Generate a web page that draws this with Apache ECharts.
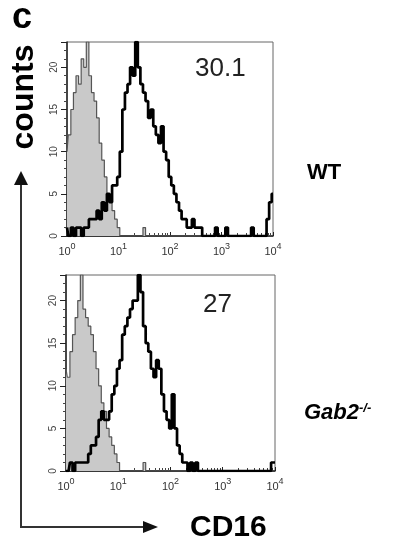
<!DOCTYPE html>
<html>
<head>
<meta charset="utf-8">
<script src="https://cdn.jsdelivr.net/npm/echarts@6/dist/echarts.min.js"></script>
<style>
  html, body { margin: 0; padding: 0; background: #fff; }
  #chart { width: 408px; height: 544px; }
</style>
</head>
<body>
<div id="chart"></div>
<script>
// bin centres in decades (log10 of CD16 intensity), 0.05 decade apart
const binLog = Array.from({ length: 81 }, (_, i) => +(i * 0.05).toFixed(2));

// WT: isotype control (grey) and anti-CD16 (black)
const wtIso = [
  10, 12, 15, 17, 19, 18, 21, 20, 23, 19,
  17, 16, 14, 11, 9, 7, 5, 4, 3, 2,
  1, 0, 0, 0, 0, 0, 0, 0, 0, 0,
  1, 0, 0, 0, 0, 0, 0, 0, 0, 0,
  0, 0, 0, 0, 0, 0, 0, 0, 0, 0,
  0, 0, 0, 0, 0, 0, 0, 0, 0, 0,
  0, 0, 0, 0, 0, 0, 0, 0, 0, 0,
  0, 0, 0, 0, 0, 0, 0, 0, 0, 0,
  0
];
const wtCd16 = [
  1, 0, 1, 0, 1, 1, 0, 1, 1, 2,
  2, 2, 3, 2, 4, 3, 5, 4, 6, 6,
  7, 10, 15, 17, 18, 20, 19, 23, 20, 18,
  17, 16, 14, 15, 13, 12, 11, 13, 10, 9,
  7, 6, 5, 4, 3, 2, 2, 1, 1, 2,
  1, 1, 1, 0, 0, 0, 0, 0, 1, 0,
  0, 0, 1, 0, 0, 0, 0, 0, 0, 0,
  0, 0, 1, 0, 0, 0, 0, 0, 2, 4,
  5
];

// Gab2-/-
const gabIso = [
  12, 11, 14, 16, 18, 20, 23, 19, 18, 17,
  16, 14, 12, 10, 8, 7, 5, 4, 3, 2,
  1, 0, 0, 0, 0, 0, 0, 0, 0, 0,
  1, 0, 0, 0, 0, 0, 0, 0, 0, 0,
  0, 0, 0, 0, 0, 0, 0, 0, 0, 0,
  0, 0, 0, 0, 0, 0, 0, 0, 0, 0,
  0, 0, 0, 0, 0, 0, 0, 0, 0, 0,
  0, 0, 0, 0, 0, 0, 0, 0, 0, 0,
  0
];
const gabCd16 = [
  0, 0, 1, 0, 1, 1, 1, 1, 1, 2,
  3, 3, 4, 6, 7, 6, 6, 7, 9, 10,
  12, 13, 16, 17, 18, 19, 20, 20, 23, 21,
  17, 15, 14, 12, 11, 13, 12, 9, 7, 6,
  5, 9, 5, 3, 2, 1, 1, 0, 1, 0,
  1, 0, 0, 0, 0, 0, 0, 0, 0, 0,
  0, 0, 0, 0, 0, 0, 0, 0, 0, 0,
  0, 0, 0, 0, 0, 0, 0, 0, 0, 1,
  1
];

const yTicks = [0, 5, 10, 15, 20];
const percents = ['30.1', '27'];
const rowLabels = ['WT', 'Gab2'];

const FONT = '"Liberation Sans", Arial, Helvetica, sans-serif';

function pairs(vals) {
  return vals.map((v, i) => [Math.pow(10, binLog[i]), v]);
}

function xAxisFor(idx) {
  return {
    type: 'log', gridIndex: idx, min: 1, max: 10000, logBase: 10,
    axisLine: { lineStyle: { color: '#111', width: 1.5 } },
    axisTick: { inside: true, length: 4, lineStyle: { color: '#222' } },
    minorTick: { show: true, splitNumber: 9, length: 3, lineStyle: { color: '#444' } },
    splitLine: { show: false },
    axisLabel: {
      margin: 6,
      formatter: v => '{b|10}{s|' + Math.round(Math.log10(v)) + '}',
      rich: {
        b: { fontFamily: FONT, fontSize: 11, color: '#333', padding: [4, 0, 0, 0] },
        s: { fontFamily: FONT, fontSize: 9, color: '#333', verticalAlign: 'top' }
      }
    }
  };
}

function yAxisFor(idx) {
  return {
    type: 'value', gridIndex: idx, min: 0, max: 23, interval: 5,
    axisLine: { show: true, lineStyle: { color: '#222', width: 1.5 } },
    axisTick: { show: true, length: 6, lineStyle: { color: '#222' } },
    minorTick: { show: true, splitNumber: 5, length: 3, lineStyle: { color: '#444' } },
    splitLine: { show: false },
    axisLabel: {
      rotate: 90, margin: 8, fontFamily: FONT, fontSize: 10, color: '#444',
      formatter: v => (yTicks.indexOf(v) >= 0 ? String(v) : '')
    }
  };
}

function isoSeries(idx, vals) {
  return {
    type: 'line', xAxisIndex: idx, yAxisIndex: idx, step: 'middle',
    data: pairs(vals), symbol: 'none', z: 2,
    lineStyle: { color: '#555', width: 1.2 },
    areaStyle: { color: '#c9c9c9', opacity: 1 }
  };
}

function cdSeries(idx, vals) {
  return {
    type: 'line', xAxisIndex: idx, yAxisIndex: idx, step: 'middle',
    data: pairs(vals), symbol: 'none', z: 3,
    lineStyle: { color: '#000', width: 2.7 }
  };
}

const chart = echarts.init(document.getElementById('chart'));
chart.setOption({
  backgroundColor: '#fff',
  animation: false,
  grid: [
    { left: 67, top: 42, width: 206, height: 194, show: true, borderColor: '#666', borderWidth: 1 },
    { left: 66, top: 275, width: 209, height: 196, show: true, borderColor: '#666', borderWidth: 1 }
  ],
  xAxis: [xAxisFor(0), xAxisFor(1)],
  yAxis: [yAxisFor(0), yAxisFor(1)],
  series: [
    isoSeries(0, wtIso), cdSeries(0, wtCd16),
    isoSeries(1, gabIso), cdSeries(1, gabCd16)
  ],
  graphic: [
    { type: 'text', left: 12, top: 0, style: { text: 'c', font: 'bold 36px ' + FONT, fill: '#000' } },
    { type: 'text', x: 24, y: 97, rotation: Math.PI / 2,
      style: { text: 'counts', font: 'bold 32px ' + FONT, fill: '#000', align: 'center', verticalAlign: 'middle' } },
    { type: 'text', left: 195, top: 56, style: { text: percents[0], font: '26px ' + FONT, fill: '#222' } },
    { type: 'text', left: 203, top: 292, style: { text: percents[1], font: '26px ' + FONT, fill: '#222' } },
    { type: 'text', left: 307, top: 162, style: { text: rowLabels[0], font: 'bold 22px ' + FONT, fill: '#000' } },
    { type: 'text', left: 304, top: 402,
      style: {
        text: '{g|' + rowLabels[1] + '}{s|-/-}',
        rich: {
          g: { font: 'italic bold 22px ' + FONT, fill: '#000' },
          s: { font: 'italic bold 13px ' + FONT, fill: '#000', verticalAlign: 'top' }
        }
      } },
    { type: 'text', left: 190, top: 513, style: { text: 'CD16', font: 'bold 30px ' + FONT, fill: '#000' } },
    { type: 'polyline', shape: { points: [[21, 182], [21, 527], [145, 527]] },
      style: { stroke: '#333', lineWidth: 2, fill: null } },
    { type: 'polygon', shape: { points: [[21, 171], [14, 185], [28, 185]] }, style: { fill: '#111' } },
    { type: 'polygon', shape: { points: [[158, 527], [143, 521], [143, 533]] }, style: { fill: '#111' } }
  ]
});
</script>
</body>
</html>
